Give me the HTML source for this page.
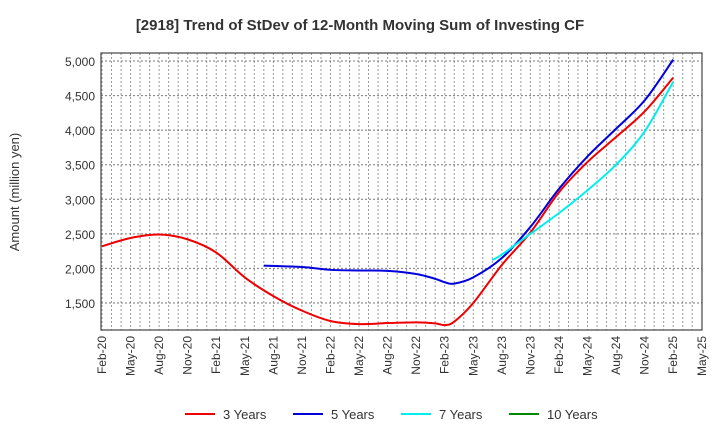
<!DOCTYPE html>
<html><head><meta charset="utf-8"><style>
body{margin:0;background:#fff;font-family:"Liberation Sans",sans-serif;}
</style></head><body>
<svg id="chart" width="720" height="440" xmlns="http://www.w3.org/2000/svg" font-family="Liberation Sans, sans-serif">
<text x="360" y="30" text-anchor="middle" font-size="15" font-weight="bold" fill="#333">[2918]  Trend of StDev of 12-Month Moving Sum of Investing CF</text>
<text transform="translate(19,192) rotate(-90)" text-anchor="middle" font-size="13" fill="#333">Amount (million yen)</text>
<g id="grid"></g>
<g id="axes"></g>
<g id="series"></g>
<g id="legend"></g>
</svg>
<script>
const xTickLabels=["Feb-20","May-20","Aug-20","Nov-20","Feb-21","May-21","Aug-21","Nov-21","Feb-22","May-22","Aug-22","Nov-22","Feb-23","May-23","Aug-23","Nov-23","Feb-24","May-24","Aug-24","Nov-24","Feb-25","May-25"];
const yTicks=[1500,2000,2500,3000,3500,4000,4500,5000];
const yTickLabels=["1,500","2,000","2,500","3,000","3,500","4,000","4,500","5,000"];
// month index from Feb-20
const m3=[0,3,6,9,12,15,18,21,24,27,30,33,35,36,37,39,42,45,48,51,54,57,60];
const v3=[2320,2440,2490,2420,2230,1870,1600,1390,1240,1195,1210,1220,1205,1180,1230,1500,2050,2520,3100,3540,3900,4270,4760];
const m5=[17,21,24,27,30,33,35,36,37,39,42,45,48,51,54,57,60];
const v5=[2040,2020,1980,1970,1965,1920,1850,1800,1780,1870,2150,2600,3150,3620,4020,4430,5020];
const m7=[41,42,45,48,51,54,57,60];
const v7=[2120,2200,2500,2800,3130,3500,3980,4700];
const m10=[];const v10=[];
const NS="http://www.w3.org/2000/svg";
const L=101,R=702,T=53,B=330;
const X=i=>102+i*9.52;
const Y=v=>303-(v-1500)*242/3500;
function el(t,a,p){const e=document.createElementNS(NS,t);for(const k in a)e.setAttribute(k,a[k]);p.appendChild(e);return e;}
const grid=document.getElementById('grid'),axes=document.getElementById('axes'),ser=document.getElementById('series'),leg=document.getElementById('legend');
for(let i=0;i<63;i++){const g=el('line',{x1:X(i),x2:X(i),y1:T,y2:B,stroke:'#999','stroke-width':1,'stroke-dasharray':'2,2'},grid);

}
yTicks.forEach((v,k)=>{const g=el('line',{x1:L,x2:R,y1:Y(v),y2:Y(v),stroke:'#777','stroke-width':1,'stroke-dasharray':'2,2'},grid);


const t=el('text',{x:L-6,y:Y(v)+5,'text-anchor':'end','font-size':12,fill:'#333'},axes);t.textContent=yTickLabels[k];

});
xTickLabels.forEach((s,k)=>{const x=X(k*3);const t=el('text',{transform:`translate(${x+4},${B+6}) rotate(-90)`,'text-anchor':'end','font-size':12,fill:'#333'},axes);t.textContent=s;

});
const fr=el('rect',{x:L,y:T,width:R-L,height:B-T,fill:'none',stroke:'#444','stroke-width':1.2},axes);


function path(ms,vs){const p=ms.map((m,i)=>[X(m),Y(vs[i])]);if(!p.length)return'';let d=`M${p[0][0]},${p[0][1]}`;
for(let i=0;i<p.length-1;i++){const p0=p[i-1]||p[i],p1=p[i],p2=p[i+1],p3=p[i+2]||p2;
d+=` C${p1[0]+(p2[0]-p0[0])/6},${p1[1]+(p2[1]-p0[1])/6} ${p2[0]-(p3[0]-p1[0])/6},${p2[1]-(p3[1]-p1[1])/6} ${p2[0]},${p2[1]}`;}return d;}
const S=[["3 Years",m3,v3,"#ee0000"],["5 Years",m5,v5,"#0000dd"],["7 Years",m7,v7,"#00eeee"],["10 Years",m10,v10,"#008800"]];
S.forEach((s,k)=>{if(s[1].length){const p=el('path',{d:path(s[1],s[2]),fill:'none',stroke:s[3],'stroke-width':2},ser);

}
const lx=[185,293,401,509][k];
const ln=el('line',{x1:lx,x2:lx+30,y1:414,y2:414,stroke:s[3],'stroke-width':2},leg);


const t=el('text',{x:lx+38,y:419,'font-size':13,fill:'#333'},leg);t.textContent=s[0];

});
</script>
</body></html>
